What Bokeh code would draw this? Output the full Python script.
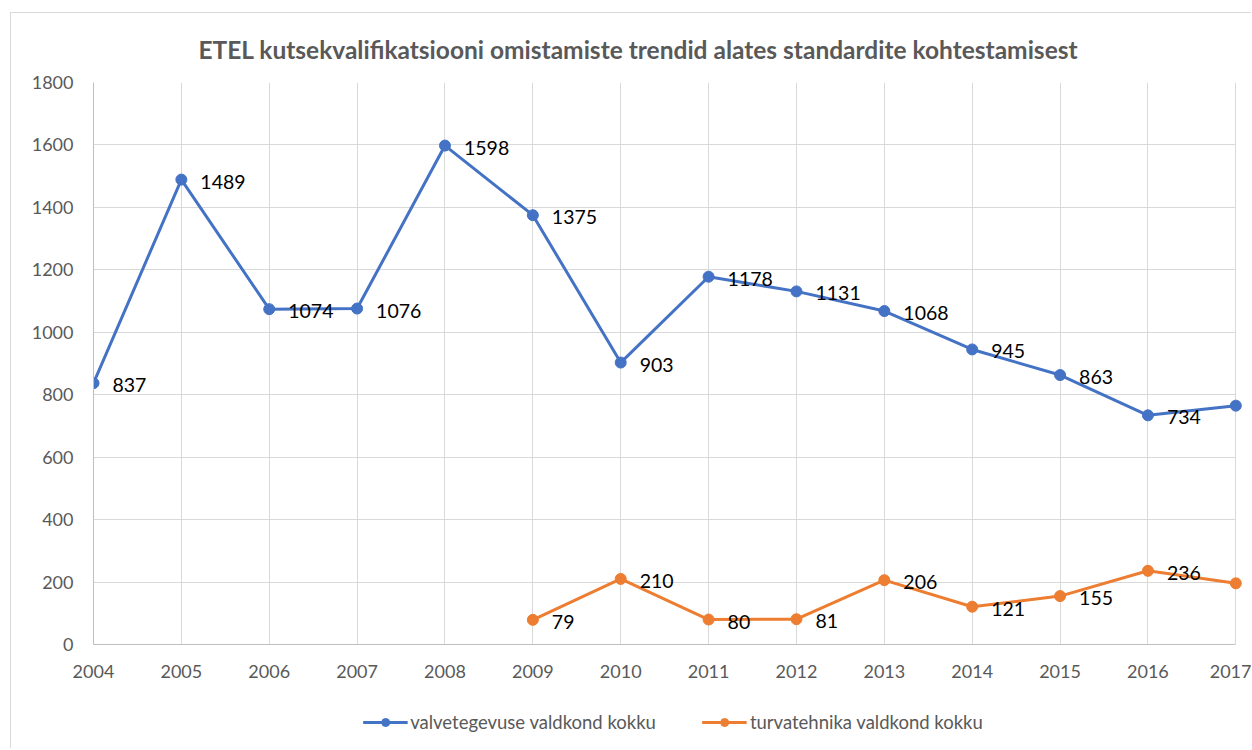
from bokeh.plotting import figure
from bokeh.layouts import column
from bokeh.models import Range1d, FixedTicker, Legend, LegendItem, Title, ColumnDataSource
from bokeh.core.properties import value
from bokeh.embed import file_html
from bokeh.resources import INLINE

years_valve = [2004, 2005, 2006, 2007, 2008, 2009, 2010, 2011, 2012, 2013, 2014, 2015, 2016, 2017]
valve = [837, 1489, 1074, 1076, 1598, 1375, 903, 1178, 1131, 1068, 945, 863, 734, 765]
years_turva = [2009, 2010, 2011, 2012, 2013, 2014, 2015, 2016, 2017]
turva = [79, 210, 80, 81, 206, 121, 155, 236, 196]
y_ticks = [0, 200, 400, 600, 800, 1000, 1200, 1400, 1600, 1800]
x_ticks = years_valve
title_text = "ETEL kutsekvalifikatsiooni omistamiste trendid alates standardite kohtestamisest"
name_valve = "valvetegevuse valdkond kokku"
name_turva = "turvatehnika valdkond kokku"

BLUE = "#4472C4"
ORANGE = "#ED7D31"
GREY_TXT = "#595959"
FONT = "Lato"

p = figure(width=1241, height=676, output_backend="svg", toolbar_location=None,
           x_range=Range1d(2004, 2017.19), y_range=Range1d(0, 1800),
           min_border_left=82, min_border_right=0, min_border_top=67, min_border_bottom=45)
p.margin = (12, 0, 0, 10)
p.styles = {"border-left": "1px solid #d9d9d9", "border-top": "1px solid #d9d9d9"}
p.outline_line_color = None

t = Title(text=title_text, text_font=FONT, text_font_size="24.5px", text_font_style="bold",
          text_color=GREY_TXT, align="left", offset=105, standoff=38)
p.add_layout(t, "above")

# axes
p.xaxis.ticker = FixedTicker(ticks=x_ticks)
p.xaxis.bounds = (2004, 2017)
p.xaxis.axis_line_color = "#bfbfbf"
p.xaxis.major_tick_line_color = None
p.xaxis.minor_tick_line_color = None
p.xaxis.major_label_text_font = FONT
p.xaxis.major_label_text_font_size = "18px"
p.xaxis.major_label_text_color = GREY_TXT
p.xaxis.major_label_standoff = 14

p.yaxis.ticker = FixedTicker(ticks=y_ticks)
p.yaxis.bounds = (0, 1800)
p.yaxis.axis_line_color = "#bfbfbf"
p.yaxis.major_tick_line_color = None
p.yaxis.minor_tick_line_color = None
p.yaxis.major_label_text_font = FONT
p.yaxis.major_label_text_font_size = "18px"
p.yaxis.major_label_text_color = GREY_TXT
p.yaxis.major_label_standoff = 14

p.xgrid.ticker = FixedTicker(ticks=x_ticks)
p.ygrid.ticker = FixedTicker(ticks=y_ticks)
p.xgrid.grid_line_color = "#d9d9d9"
p.ygrid.grid_line_color = "#d9d9d9"
p.ygrid.cross_bounds = (2004, 2017)

src_v = ColumnDataSource(dict(x=years_valve, y=valve, lab=[str(v) for v in valve]))
src_t = ColumnDataSource(dict(x=years_turva, y=turva, lab=[str(v) for v in turva]))

p.line("x", "y", source=src_v, line_color=BLUE, line_width=3)
p.scatter("x", "y", source=src_v, size=11, fill_color=BLUE, line_color=BLUE)
p.line("x", "y", source=src_t, line_color=ORANGE, line_width=3)
p.scatter("x", "y", source=src_t, size=11, fill_color=ORANGE, line_color=ORANGE)

for s in (src_v, src_t):
    p.text("x", "y", text="lab", source=s, x_offset=19, y_offset=2,
           text_font=value(FONT), text_font_size="19.5px", text_color="#000000",
           text_baseline="middle", text_align="left")

# legend strip below the chart (same series styles; data lies outside its empty view)
q = figure(width=1241, height=60, output_backend="svg", toolbar_location=None,
           x_range=Range1d(0, 1), y_range=Range1d(0, 1),
           x_axis_location=None, y_axis_location=None,
           min_border_left=0, min_border_right=0, min_border_top=8, min_border_bottom=0)
q.margin = (0, 0, 0, 10)
q.styles = {"border-left": "1px solid #d9d9d9"}
q.outline_line_color = None
q.grid.visible = False
lv = q.line("x", "y", source=src_v, line_color=BLUE, line_width=3)
cv = q.scatter("x", "y", source=src_v, size=11, fill_color=BLUE, line_color=BLUE)
lt = q.line("x", "y", source=src_t, line_color=ORANGE, line_width=3)
ct = q.scatter("x", "y", source=src_t, size=11, fill_color=ORANGE, line_color=ORANGE)

legend = Legend(items=[LegendItem(label=name_valve, renderers=[lv, cv]),
                       LegendItem(label=name_turva, renderers=[lt, ct])],
                orientation="horizontal", location="center", padding=5, margin=0,
                glyph_width=45, label_standoff=3, spacing=46,
                label_text_font=FONT, label_text_font_size="18.5px", label_text_color=GREY_TXT,
                border_line_color=None, background_fill_alpha=0)
q.add_layout(legend, "center")

layout = column(p, q, spacing=0)
open("out.html", "w").write(file_html(layout, INLINE))
